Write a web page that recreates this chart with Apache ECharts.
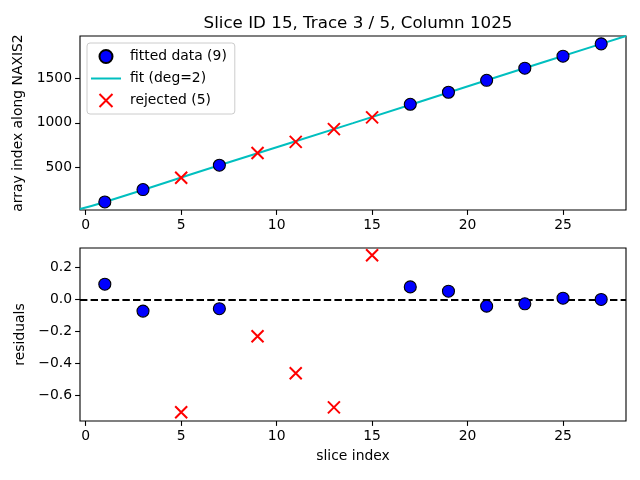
<!DOCTYPE html>
<html>
<head>
  <meta charset="UTF-8">
  <title>Slice ID 15, Trace 3 / 5, Column 1025</title>
  <script src="https://cdn.jsdelivr.net/npm/echarts@6/dist/echarts.min.js"></script>
  <style>
    html, body { margin: 0; padding: 0; background: #fff; }
    #main { width: 640px; height: 480px; }
  </style>
</head>
<body>
  <div id="main"></div>
  <script>
    // slices kept in the fit
    const fitX = [1, 3, 7, 17, 19, 21, 23, 25, 27];
    const fitY = [110, 250, 523, 1208, 1343, 1477, 1613, 1748, 1887];
    const fitRes = [0.096, -0.073, -0.058, 0.079, 0.052, -0.042, -0.027, 0.008, 0.0];

    // rejected slices
    const rejX = [5, 9, 11, 13, 15];
    const rejY = [382, 661, 785, 929, 1061];
    const rejRes = [-0.708, -0.231, -0.463, -0.677, 0.277];

    // fitted polynomial
    const curveX = [-0.3, 1, 7, 14, 21, 27, 28.3];
    const curveY = [31, 110, 523, 996, 1477, 1887, 1975];

    const xTicks = [0, 5, 10, 15, 20, 25];
    const yTopTicks = [500, 1000, 1500];
    const yBotTicks = [-0.6, -0.4, -0.2, 0.0, 0.2];

    const zip = (a, b) => a.map((v, i) => [v, b[i]]);
    const font = 'DejaVu Sans';
    const fs = 13.9;
    const xMark = 'path://M0,0L10,10M10,0L0,10';
    const lineIcon = 'path://M0,0L30,0L30,2L0,2Z';

    function xAxisCfg(idx, name) {
      return {
        type: 'value', gridIndex: idx, min: -0.3, max: 28.3,
        name: name, nameLocation: 'middle', nameGap: 28,
        nameTextStyle: { color: '#000', fontFamily: font, fontSize: fs },
        axisLine: { show: false, onZero: false },
        axisTick: { show: true, length: 4.9, lineStyle: { color: '#000', width: 1.1 }, customValues: xTicks },
        axisLabel: { color: '#000', fontFamily: font, fontSize: fs, margin: 8, customValues: xTicks },
        splitLine: { show: false }
      };
    }

    function yAxisCfg(idx, min, max, ticks, name, gap, fmt) {
      return {
        type: 'value', gridIndex: idx, min: min, max: max,
        name: name, nameLocation: 'middle', nameGap: gap,
        nameTextStyle: { color: '#000', fontFamily: font, fontSize: fs },
        axisLine: { show: false, onZero: false },
        axisTick: { show: true, length: 4.9, lineStyle: { color: '#000', width: 1.1 }, customValues: ticks },
        axisLabel: { color: '#000', fontFamily: font, fontSize: fs, margin: 8, customValues: ticks, formatter: fmt },
        splitLine: { show: false }
      };
    }

    const chart = echarts.init(document.getElementById('main'));
    chart.setOption({
      animation: false,
      backgroundColor: '#fff',
      title: {
        text: 'Slice ID 15, Trace 3 / 5, Column 1025',
        left: 353, top: 10, textAlign: 'center',
        textStyle: { color: '#000', fontFamily: font, fontSize: 16.7, fontWeight: 'normal' }
      },
      legend: {
        orient: 'vertical', left: 87, top: 43,
        padding: [6, 8, 6, 4], itemGap: 7.5, itemWidth: 30, itemHeight: 13,
        borderColor: '#cccccc', borderWidth: 1, borderRadius: 3,
        backgroundColor: 'rgba(255,255,255,0.8)',
        textStyle: { color: '#000', fontFamily: font, fontSize: fs, padding: [0, 0, 0, 4] },
        data: [
          { name: 'fitted data (9)' },
          { name: 'fit (deg=2)', icon: lineIcon, itemStyle: { color: '#00bfbf', borderWidth: 0 } },
          { name: 'rejected (5)' }
        ]
      },
      grid: [
        { left: 80, right: 14, top: 36, height: 174, show: true, borderColor: '#000', borderWidth: 1.1, backgroundColor: 'transparent' },
        { left: 80, right: 14, top: 248, height: 173, show: true, borderColor: '#000', borderWidth: 1.1, backgroundColor: 'transparent' }
      ],
      xAxis: [xAxisCfg(0, ''), xAxisCfg(1, 'slice index')],
      yAxis: [
        yAxisCfg(0, 20, 1975, yTopTicks, 'array index along NAXIS2', 52, v => String(v)),
        yAxisCfg(1, -0.7625, 0.323, yBotTicks, 'residuals', 44, v => v.toFixed(1).replace('-', '\u2212'))
      ],
      series: [
        {
          name: 'fit (deg=2)', type: 'line', xAxisIndex: 0, yAxisIndex: 0,
          data: zip(curveX, curveY), symbol: 'none', smooth: true, z: 2,
          lineStyle: { color: '#00bfbf', width: 2 }, itemStyle: { color: '#00bfbf' }
        },
        {
          name: 'fitted data (9)', type: 'scatter', xAxisIndex: 0, yAxisIndex: 0,
          data: zip(fitX, fitY), symbol: 'circle', symbolSize: 12, z: 3,
          itemStyle: { color: '#0000ff', borderColor: '#000', borderWidth: 1.1, opacity: 1 }
        },
        {
          name: 'rejected (5)', type: 'scatter', xAxisIndex: 0, yAxisIndex: 0,
          data: zip(rejX, rejY), symbol: xMark, symbolSize: 12, z: 3,
          itemStyle: { color: 'rgba(0,0,0,0)', borderColor: '#ff0000', borderWidth: 2, opacity: 1 }
        },
        {
          name: 'fitted data (9)', type: 'scatter', xAxisIndex: 1, yAxisIndex: 1,
          data: zip(fitX, fitRes), symbol: 'circle', symbolSize: 12, z: 3,
          itemStyle: { color: '#0000ff', borderColor: '#000', borderWidth: 1.1, opacity: 1 },
          markLine: {
            silent: true, symbol: 'none', z: 2,
            label: { show: false },
            lineStyle: { color: '#000', width: 2, type: [7.4, 3.2] },
            data: [{ yAxis: 0 }]
          }
        },
        {
          name: 'rejected (5)', type: 'scatter', xAxisIndex: 1, yAxisIndex: 1,
          data: zip(rejX, rejRes), symbol: xMark, symbolSize: 12, z: 3,
          itemStyle: { color: 'rgba(0,0,0,0)', borderColor: '#ff0000', borderWidth: 2, opacity: 1 }
        }
      ]
    });
  </script>
</body>
</html>
